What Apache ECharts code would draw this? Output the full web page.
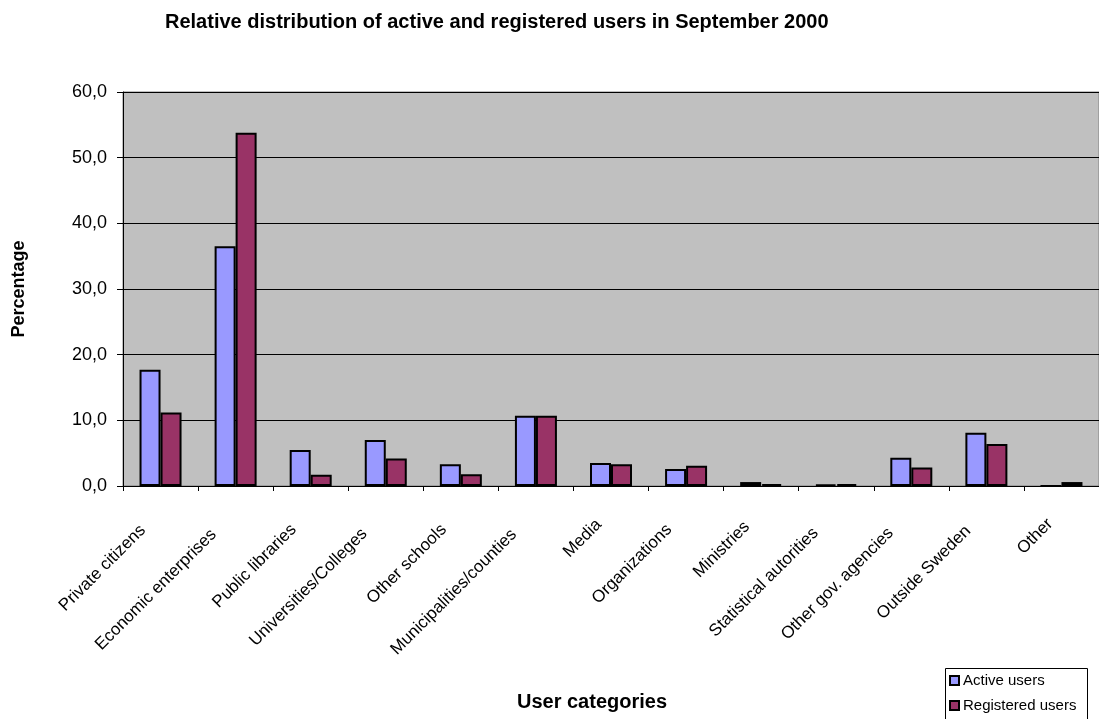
<!DOCTYPE html>
<html>
<head>
<meta charset="utf-8">
<script src="https://cdn.jsdelivr.net/npm/echarts@6/dist/echarts.min.js"></script>
<style>
  html, body { margin: 0; padding: 0; background: #fff; }
  #chart { width: 1099px; height: 719px; }
</style>
</head>
<body>
<div id="chart"></div>
<script>
// categories and values (percent)
const categories = [
  'Private citizens', 'Economic enterprises', 'Public libraries', 'Universities/Colleges',
  'Other schools', 'Municipalities/counties', 'Media', 'Organizations', 'Ministries',
  'Statistical autorities', 'Other gov. agencies', 'Outside Sweden', 'Other'
];
const activeUsers = [17.7, 36.5, 5.5, 7.0, 3.3, 10.7, 3.5, 2.6, 0.6, 0.2, 4.3, 8.1, 0.0];
const registeredUsers = [11.2, 53.8, 1.7, 4.2, 1.8, 10.7, 3.3, 3.1, 0.3, 0.3, 2.8, 6.4, 0.6];
const seriesNames = ['Active users', 'Registered users'];

const chart = echarts.init(document.getElementById('chart'));

const font = 'Liberation Sans, Arial, sans-serif';
const catFontSize = 17;

// Excel pushes longer rotated labels a bit further down-left; mimic with right padding
const ctx = document.createElement('canvas').getContext('2d');
ctx.font = catFontSize + 'px ' + font;
const catLabels = categories.map(c => {
  const w = ctx.measureText(c).width;
  return { value: c, textStyle: { padding: [0, 14 + Math.max(0, Math.round((w - 25) * 0.12)), 0, 0] } };
});

const option = {
  animation: false,
  textStyle: { fontFamily: font, color: '#000' },
  title: {
    text: 'Relative distribution of active and registered users in September 2000',
    left: 160,
    top: 7,
    textStyle: { fontFamily: font, fontSize: 20, fontWeight: 'bold', color: '#000' }
  },
  grid: {
    left: 123,
    right: 0,
    top: 92,
    bottom: 233,
    outerBoundsMode: 'none',
    containLabel: false,
    show: true,
    backgroundColor: '#C0C0C0',
    borderColor: '#808080',
    borderWidth: 1
  },
  legend: {
    orient: 'vertical',
    left: 949,
    top: 673,
    padding: 0,
    itemWidth: 9,
    itemHeight: 9,
    itemGap: 10,
    icon: 'rect',
    data: seriesNames,
    textStyle: { fontFamily: font, fontSize: 15, color: '#000', padding: [0, 0, 0, -1] }
  },
  graphic: [{
    type: 'rect',
    z: -1,
    shape: { x: 945.5, y: 668.5, width: 142, height: 60 },
    style: { fill: '#fff', stroke: '#000', lineWidth: 1 }
  }],
  xAxis: {
    type: 'category',
    data: catLabels,
    name: 'User categories',
    nameLocation: 'middle',
    nameGap: 206,
    nameTextStyle: { fontFamily: font, fontSize: 20, fontWeight: 'bold', color: '#000', padding: [0, 38, 0, 0] },
    axisLine: { lineStyle: { color: '#000', width: 1 } },
    axisTick: { show: true, length: 5, lineStyle: { color: '#000' } },
    axisLabel: {
      rotate: 45,
      margin: 24,
      interval: 0,
      fontFamily: font,
      fontSize: catFontSize,
      color: '#000'
    }
  },
  yAxis: {
    type: 'value',
    min: 0,
    max: 60,
    interval: 10,
    name: 'Percentage',
    nameLocation: 'middle',
    nameGap: 95,
    nameRotate: 90,
    nameTextStyle: { fontFamily: font, fontSize: 18, fontWeight: 'bold', color: '#000' },
    axisLine: { show: true, lineStyle: { color: '#000', width: 1 } },
    axisTick: { show: true, length: 6, lineStyle: { color: '#000' } },
    axisLabel: {
      margin: 16,
      fontFamily: font,
      fontSize: 18,
      color: '#000',
      formatter: v => v.toFixed(1).replace('.', ',')
    },
    splitLine: { show: true, lineStyle: { color: '#000', width: 1 } }
  },
  series: [
    {
      name: seriesNames[0],
      type: 'bar',
      data: activeUsers,
      barWidth: 21,
      barGap: '0%',
      itemStyle: { color: '#9999FF', borderColor: '#000', borderWidth: 2 }
    },
    {
      name: seriesNames[1],
      type: 'bar',
      data: registeredUsers,
      barWidth: 21,
      barGap: '0%',
      itemStyle: { color: '#993366', borderColor: '#000', borderWidth: 2 }
    }
  ]
};

chart.setOption(option);
</script>
</body>
</html>
